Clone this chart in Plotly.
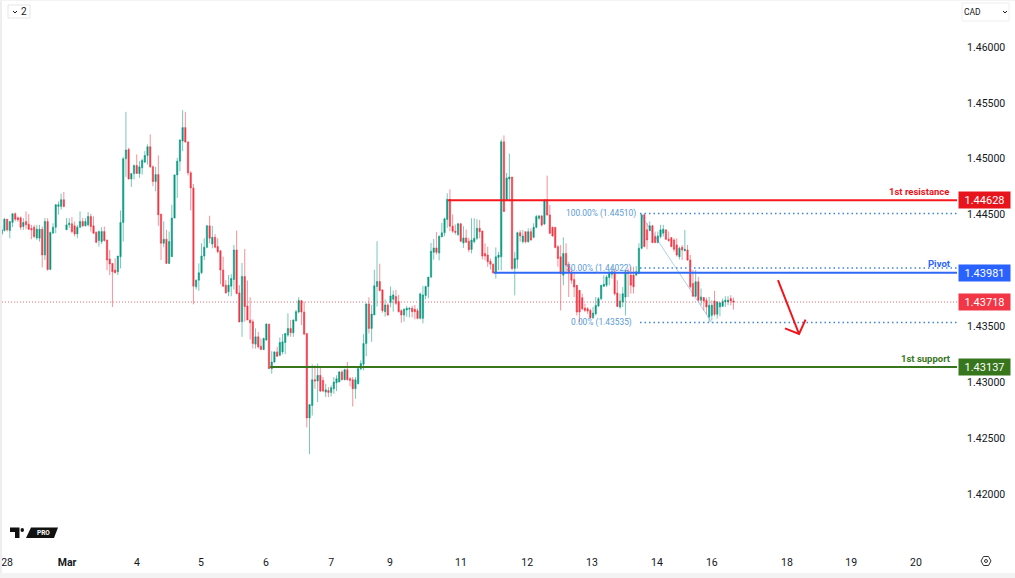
import plotly.graph_objects as go

W, H = 1015, 578

opens = [1.44328,1.44358,1.44460,1.44358,1.44430,1.44508,1.44472,1.44472,1.44394,1.44439,
1.44415,1.44376,1.44388,1.44292,1.44289,1.44370,1.44139,1.44439,1.44010,1.44334,
1.44388,1.44574,1.44574,1.44634,1.44364,1.44409,1.44418,1.44400,1.44328,1.44388,
1.44439,1.44400,1.44409,1.44484,1.44400,1.44343,1.44268,1.44259,1.44349,1.44274,
1.44103,1.44064,1.44004,1.43989,1.44124,1.44430,1.45000,1.45084,1.44820,1.44868,
1.44940,1.44868,1.44919,1.44970,1.45030,1.45108,1.44928,1.44796,1.44859,1.44505,
1.44244,1.44280,1.44064,1.44124,1.44469,1.44856,1.44979,1.45159,1.45279,1.45150,
1.44874,1.44739,1.43854,1.43914,1.43980,1.44130,1.44208,1.44400,1.44238,1.44298,
1.44214,1.44178,1.44004,1.43869,1.43809,1.43860,1.43920,1.44184,1.43800,1.43542,
1.43947,1.43683,1.43557,1.43542,1.43341,1.43407,1.43323,1.43293,1.43377,1.43521,
1.43122,1.43182,1.43272,1.43242,1.43272,1.43356,1.43422,1.43482,1.43443,1.43551,
1.43629,1.43731,1.43629,1.43437,1.42681,1.42792,1.43023,1.43011,1.43062,1.43017,
1.42912,1.42927,1.42909,1.42942,1.42996,1.43002,1.43092,1.43023,1.43113,1.43032,
1.43023,1.42942,1.42987,1.43122,1.43161,1.43347,1.43701,1.43482,1.43602,1.43857,
1.43902,1.43827,1.43632,1.43692,1.43713,1.43743,1.43767,1.43722,1.43641,1.43602,
1.43647,1.43653,1.43662,1.43653,1.43641,1.43572,1.43572,1.43776,1.43857,
1.43941,1.44163,1.44202,1.44157,1.44301,1.44337,1.44457,1.44637,1.44397,1.44352,
1.44322,1.44418,1.44247,1.44292,1.44262,1.44189,1.44258,1.44288,1.44378,1.44354,
1.44153,1.44138,1.44084,1.44057,1.43979,1.44117,1.44123,1.45152,1.44633,1.44819,
1.44837,1.44018,1.44099,1.44339,1.44258,1.44348,1.44258,1.44348,1.44297,1.44387,
1.44468,1.44489,1.44417,1.44633,1.44498,1.44387,1.44387,1.44213,1.44123,1.43958,
1.44153,1.44048,1.43988,1.43919,1.43868,1.43823,1.43757,1.43664,1.43658,1.43643,
1.43577,1.43613,1.43682,1.43748,1.43859,1.43868,1.43937,1.43967,1.43988,1.43799,
1.43673,1.43718,1.43763,1.43988,1.43959,1.43959,1.43959,1.43974,1.44199,1.44499,
1.44364,1.44358,1.44400,1.44304,1.44250,1.44304,1.44334,1.44364,1.44280,
1.44295,1.44274,1.44229,1.44124,1.44208,1.44178,1.44184,1.44094,1.43884,
1.43770,1.43899,1.43734,1.43758,1.43734,1.43584,1.43599,1.43728,1.43608,1.43674,
1.43680,1.43719,1.43719,1.43749,1.43728]

closes = [1.44364,1.44460,1.44364,1.44439,1.44508,1.44460,1.44454,1.44388,1.44430,1.44409,
1.44370,1.44364,1.44304,1.44370,1.44370,1.44139,1.44439,1.44010,1.44340,1.44388,
1.44589,1.44589,1.44634,1.44574,1.44409,1.44424,1.44349,1.44328,1.44388,1.44439,
1.44400,1.44439,1.44484,1.44394,1.44334,1.44253,1.44349,1.44349,1.44268,1.44094,
1.44058,1.43989,1.43980,1.44130,1.44430,1.45000,1.45078,1.44820,1.44868,1.44940,
1.44868,1.44928,1.44985,1.45030,1.45108,1.44928,1.44796,1.44859,1.44499,1.44244,
1.44280,1.44064,1.44259,1.44469,1.44856,1.44979,1.45168,1.45279,1.45150,1.44874,
1.44739,1.43860,1.43914,1.43980,1.44130,1.44208,1.44400,1.44289,1.44298,1.44208,
1.44169,1.44004,1.43860,1.43800,1.43869,1.43929,1.44184,1.43794,1.43539,1.43947,
1.43677,1.43557,1.43533,1.43347,1.43407,1.43317,1.43293,1.43392,1.43521,1.43122,
1.43182,1.43272,1.43233,1.43356,1.43362,1.43437,1.43482,1.43443,1.43557,1.43632,
1.43731,1.43629,1.43431,1.42681,1.42801,1.43023,1.43011,1.43062,1.42921,1.42921,
1.42933,1.42909,1.42951,1.43002,1.43032,1.43092,1.43023,1.43113,1.43023,1.43017,
1.42942,1.43023,1.43122,1.43167,1.43347,1.43701,1.43482,1.43611,1.43863,1.43902,
1.43821,1.43641,1.43692,1.43602,1.43773,1.43782,1.43707,1.43632,1.43602,1.43653,
1.43662,1.43662,1.43632,1.43632,1.43572,1.43791,1.43782,1.43857,1.43941,
1.44172,1.44202,1.44163,1.44307,1.44337,1.44463,1.44637,1.44397,1.44352,1.44343,
1.44418,1.44262,1.44292,1.44253,1.44187,1.44273,1.44288,1.44378,1.44348,1.44129,
1.44129,1.44078,1.44057,1.43979,1.44123,1.44138,1.45152,1.44528,1.44828,1.44837,
1.44018,1.44108,1.44339,1.44309,1.44309,1.44258,1.44348,1.44273,1.44387,1.44483,
1.44489,1.44408,1.44633,1.44498,1.44333,1.44309,1.44207,1.44108,1.43973,1.44153,
1.44048,1.43988,1.43913,1.43853,1.43628,1.43628,1.43658,1.43643,1.43637,1.43577,
1.43619,1.43688,1.43748,1.43868,1.43877,1.43943,1.43973,1.43988,1.43793,1.43679,
1.43727,1.43793,1.43988,1.43973,1.43869,1.43854,1.43989,1.44199,1.44499,1.44214,
1.44274,1.44400,1.44250,1.44250,1.44310,1.44364,1.44370,1.44280,1.44268,
1.44214,1.44190,1.44139,1.44199,1.44184,1.44190,1.44094,1.43854,1.43770,
1.43899,1.43734,1.43764,1.43728,1.43674,1.43689,1.43689,1.43608,1.43719,1.43710,
1.43725,1.43734,1.43734,1.43728,1.43718]

highs = [1.44400,1.44469,1.44460,1.44439,1.44514,1.44520,1.44484,1.44484,1.44469,1.44529,
1.44505,1.44409,1.44409,1.44409,1.44409,1.44394,1.44469,1.44469,1.44349,1.44424,
1.44595,1.44619,1.44688,1.44703,1.44469,1.44469,1.44478,1.44439,1.44409,1.44529,
1.44469,1.44469,1.44523,1.44508,1.44484,1.44349,1.44358,1.44388,1.44394,1.44274,
1.44184,1.44064,1.44109,1.44130,1.44538,1.45018,1.45420,1.45099,1.44868,1.44949,
1.45039,1.44979,1.45000,1.45069,1.45129,1.45219,1.44940,1.44928,1.45030,1.44505,
1.44439,1.44364,1.44349,1.44589,1.44859,1.45009,1.45174,1.45435,1.45420,1.45159,
1.44889,1.44775,1.43920,1.44064,1.44244,1.44289,1.44409,1.44490,1.44400,1.44328,
1.44289,1.44178,1.44124,1.43914,1.43959,1.43968,1.44229,1.44358,1.43869,1.44067,
1.44193,1.43911,1.43761,1.43563,1.43482,1.43452,1.43392,1.43401,1.43527,1.43521,
1.43278,1.43278,1.43317,1.43401,1.43431,1.43437,1.43617,1.43557,1.43563,1.43647,
1.43761,1.43731,1.43722,1.43437,1.42801,1.43161,1.43152,1.43167,1.43137,1.43047,
1.42987,1.42957,1.42972,1.43047,1.43062,1.43101,1.43107,1.43122,1.43182,1.43047,
1.43047,1.43047,1.43137,1.43197,1.43431,1.43707,1.43761,1.43692,1.44007,1.44262,
1.44061,1.43827,1.43743,1.43707,1.43857,1.43821,1.43827,1.43782,1.43653,1.43662,
1.43683,1.43671,1.43683,1.43692,1.43662,1.43803,1.43863,1.43863,1.43941,
1.44247,1.44283,1.44343,1.44313,1.44427,1.44472,1.44691,1.44727,1.44502,1.44412,
1.44427,1.44427,1.44397,1.44367,1.44292,1.44468,1.44468,1.44459,1.44453,1.44354,
1.44243,1.44213,1.44108,1.44063,1.44207,1.44168,1.45173,1.45209,1.44873,1.45047,
1.44837,1.44168,1.44348,1.44363,1.44363,1.44348,1.44378,1.44378,1.44423,1.44498,
1.44498,1.44498,1.44633,1.44849,1.44588,1.44393,1.44387,1.44228,1.44228,1.44297,
1.44243,1.44078,1.44018,1.43973,1.43868,1.43823,1.43793,1.43703,1.43673,1.43658,
1.43673,1.43763,1.43763,1.43868,1.43958,1.43958,1.44003,1.44033,1.44018,1.43913,
1.43793,1.43853,1.44003,1.44018,1.44034,1.44034,1.44040,1.44244,1.44499,1.44508,
1.44424,1.44439,1.44409,1.44349,1.44349,1.44409,1.44409,1.44364,1.44349,
1.44295,1.44289,1.44289,1.44214,1.44229,1.44364,1.44229,1.44139,1.44004,
1.44004,1.43944,1.43839,1.43764,1.43758,1.43764,1.43734,1.43818,1.43728,1.43719,
1.43749,1.43770,1.43770,1.43779,1.43758]

lows = [1.44310,1.44349,1.44349,1.44289,1.44388,1.44439,1.44436,1.44364,1.44364,1.44370,
1.44364,1.44280,1.44289,1.44274,1.44259,1.44028,1.44094,1.43998,1.44004,1.44334,
1.44334,1.44499,1.44544,1.44565,1.44364,1.44379,1.44334,1.44304,1.44289,1.44379,
1.44388,1.44394,1.44394,1.44349,1.44328,1.44244,1.44214,1.44238,1.44259,1.44004,
1.43959,1.43674,1.43974,1.43959,1.44019,1.44259,1.44838,1.44814,1.44748,1.44814,
1.44868,1.44829,1.44859,1.44964,1.44949,1.44919,1.44754,1.44709,1.44400,1.44094,
1.44208,1.44058,1.44058,1.44124,1.44469,1.44649,1.44889,1.45069,1.45144,1.44850,
1.44538,1.43698,1.43830,1.43818,1.43968,1.44094,1.44199,1.44244,1.44199,1.44199,
1.44154,1.43878,1.43854,1.43794,1.43770,1.43770,1.43830,1.43788,1.43539,1.43407,
1.43542,1.43557,1.43383,1.43302,1.43302,1.43302,1.43287,1.43287,1.43377,1.43122,
1.43077,1.43173,1.43227,1.43233,1.43251,1.43251,1.43407,1.43407,1.43407,1.43542,
1.43617,1.43512,1.43422,1.42597,1.42357,1.42702,1.42942,1.42822,1.42912,1.42912,
1.42867,1.42867,1.42873,1.42897,1.42921,1.43002,1.43017,1.43017,1.43017,1.42963,
1.42783,1.42852,1.42981,1.43107,1.43107,1.43233,1.43437,1.43362,1.43602,1.43677,
1.43812,1.43623,1.43587,1.43593,1.43671,1.43632,1.43692,1.43623,1.43533,1.43542,
1.43587,1.43581,1.43581,1.43563,1.43563,1.43563,1.43527,1.43743,1.43752,
1.43932,1.44097,1.44142,1.44091,1.44301,1.44307,1.44382,1.44352,1.44337,1.44322,
1.44307,1.44253,1.44202,1.44247,1.44163,1.44153,1.44243,1.44273,1.44288,1.44099,
1.44093,1.44033,1.44009,1.43973,1.43928,1.44003,1.44003,1.44528,1.44627,1.44618,
1.44003,1.43778,1.44018,1.44258,1.44243,1.44243,1.44249,1.44267,1.44288,1.44378,
1.44453,1.44393,1.44408,1.44489,1.44327,1.44303,1.44198,1.44033,1.43643,1.43868,
1.43973,1.43763,1.43883,1.43763,1.43598,1.43538,1.43643,1.43628,1.43613,1.43568,
1.43568,1.43598,1.43673,1.43733,1.43853,1.43853,1.43868,1.43928,1.43778,1.43673,
1.43658,1.43673,1.43598,1.43763,1.43794,1.43794,1.43950,1.43968,1.44190,1.44208,
1.44190,1.44349,1.44244,1.44244,1.44244,1.44289,1.44304,1.44274,1.44259,
1.44208,1.44169,1.44124,1.44100,1.44094,1.44169,1.44088,1.43839,1.43764,
1.43764,1.43728,1.43689,1.43644,1.43608,1.43539,1.43554,1.43590,1.43569,1.43590,
1.43674,1.43674,1.43689,1.43689,1.43650]

x_tick_labels = ["28", "<b>Mar</b>", "4", "5", "6", "7", "9", "11", "12", "13", "14", "16", "18", "19", "20"]
x_tick_bars = [2.0, 24.2, 50.1, 73.8, 97.9, 122.0, 143.8, 170.1, 194.6, 218.6, 242.7, 263.0, 290.8, 314.6, 338.6]
price_ticks = [1.42, 1.425, 1.43, 1.435, 1.445, 1.45, 1.455, 1.46]

resistance, pivot, support, last_price = 1.44628, 1.43981, 1.43137, 1.43718
fib_100, fib_50, fib_0 = 1.44510, 1.44022, 1.43535
arrow_bars = [287.5, 295.3]
arrow_prices = [1.43915, 1.43432]
arrow_head_bars = [290.1, 295.3, 297.7]
arrow_head_prices = [1.43482, 1.43432, 1.43560]

FONT = "Roboto"
INK = "#131722"
XMAX = 353.8
XMIN = 0.1
bars = list(range(len(opens)))


def X(px):
    return px / W


def Y(py):
    return 1 - py / H


def level(x0, price, color, width, dash="solid"):
    return go.Scatter(x=[x0, XMAX], y=[price, price], mode="lines",
                      line=dict(color=color, width=width, dash=dash),
                      hoverinfo="skip", showlegend=False)


fig = go.Figure()
fig.add_trace(level(XMIN, last_price, "rgba(242,54,69,0.75)", 1, "1px,2px"))
fig.add_trace(go.Candlestick(
    x=bars, open=opens, high=highs, low=lows, close=closes,
    increasing=dict(line=dict(color="rgba(8,153,129,0.55)", width=1), fillcolor="#089981"),
    decreasing=dict(line=dict(color="rgba(242,54,69,0.55)", width=1), fillcolor="#F23645"),
    whiskerwidth=0, showlegend=False, hoverinfo="skip"))
fig.add_trace(level(165.3, resistance, "#F7171F", 2))
fig.add_trace(level(182.3, pivot, "#2F6AF5", 2))
fig.add_trace(level(99.4, support, "#38761D", 2))
for f in (fib_100, fib_50, fib_0):
    fig.add_trace(level(236.4, f, "#3D85D8", 1.4, "1.5px,3px"))
fig.add_trace(go.Scatter(x=[236.4, 263.0], y=[fib_100, fib_0], mode="lines",
                         line=dict(color="rgba(61,133,216,0.4)", width=1),
                         hoverinfo="skip", showlegend=False))
fig.add_trace(go.Scatter(x=arrow_bars, y=arrow_prices, mode="lines",
                         line=dict(color="#F0141C", width=2), hoverinfo="skip", showlegend=False))
fig.add_trace(go.Scatter(x=arrow_head_bars, y=arrow_head_prices, mode="lines",
                         line=dict(color="#F0141C", width=2), hoverinfo="skip", showlegend=False))

annotations = []


def price_tag(price, text, color):
    annotations.append(dict(xref="paper", yref="y", x=X(984.5), y=price, text=text, showarrow=False,
                            xanchor="center", yanchor="middle",
                            font=dict(family=FONT, size=11, color="white"), bgcolor=color,
                            width=51, height=16, borderpad=0, align="center"))


def label(x_px, price, text, color, size, yshift=0, bold=False):
    annotations.append(dict(xref="paper", yref="y", x=X(x_px), y=price,
                            text=f"<b>{text}</b>" if bold else text, showarrow=False,
                            xanchor="right", yanchor="middle",
                            yshift=yshift, font=dict(family=FONT, size=size, color=color)))


def chrome(x_px, y_px, text, color, size, bold=False):
    annotations.append(dict(xref="paper", yref="paper", x=X(x_px), y=Y(y_px),
                            text=f"<b>{text}</b>" if bold else text, showarrow=False,
                            xanchor="center", yanchor="middle",
                            font=dict(family=FONT, size=size, color=color)))


price_tag(resistance, "1.44628", "#E8141C")
price_tag(pivot, "1.43981", "#2962FF")
price_tag(last_price, "1.43718", "#F23645")
price_tag(support, "1.43137", "#38761D")
label(951, resistance, "1st resistance", "#E8141C", 9.5, yshift=9, bold=True)
label(953, pivot, "Pivot", "#2962FF", 9.5, yshift=9, bold=True)
label(953, support, "1st support", "#38761D", 9.5, yshift=8, bold=True)
label(638, fib_100, "100.00% (1.44510)", "#5B9BD5", 8.4)
label(634, fib_50, "50.00% (1.44022)", "#5B9BD5", 8.4)
label(634, fib_0, "0.00% (1.43535)", "#5B9BD5", 8.4)
chrome(24, 12, "2", INK, 10)
chrome(972, 12, "CAD", INK, 8.5)
chrome(43.5, 533, "PRO", "white", 6.5, bold=True)


def poly(points):
    return "M" + " L".join(f"{X(a):.5f},{Y(b):.5f}" for a, b in points)


shapes = [
    dict(type="rect", xref="paper", yref="paper", x0=0, x1=X(2), y0=0, y1=1, fillcolor="#EEEEEE", line_width=0),
    dict(type="rect", xref="paper", yref="paper", x0=0, x1=1, y0=0, y1=Y(573), fillcolor="#F3F3F3", line_width=0),
    dict(type="rect", xref="paper", yref="paper", x0=0, x1=1, y0=Y(1), y1=1, fillcolor="#F3F3F3", line_width=0),
    dict(type="rect", xref="paper", yref="paper", x0=X(8), x1=X(30), y0=Y(18), y1=Y(5),
         line=dict(color="#E6E6E6", width=1), fillcolor="white"),
    dict(type="rect", xref="paper", yref="paper", x0=X(962), x1=X(1009), y0=Y(21), y1=Y(3),
         line=dict(color="#EEEEEE", width=1), fillcolor="white"),
    dict(type="path", xref="paper", yref="paper", path=poly([(13, 11), (15, 13), (17, 11)]),
         line=dict(color=INK, width=1)),
    dict(type="path", xref="paper", yref="paper", path=poly([(1003, 11), (1005, 13), (1007, 11)]),
         line=dict(color=INK, width=1)),
    dict(type="path", xref="paper", yref="paper",
         path=poly([(10, 527.5), (19.5, 527.5), (19.5, 538), (15, 538), (15, 532), (10, 532)]) + " Z",
         fillcolor="#111", line_width=0),
    dict(type="circle", xref="paper", yref="paper", x0=X(20.5), x1=X(24), y0=Y(532), y1=Y(528),
         fillcolor="#111", line_width=0),
    dict(type="path", xref="paper", yref="paper",
         path=poly([(26, 538), (31, 527.5), (58, 527.5), (54, 538)]) + " Z",
         fillcolor="#111", line_width=0),
    dict(type="path", xref="paper", yref="paper",
         path=poly([(981, 561), (983.5, 556.5), (988.5, 556.5), (991, 561), (988.5, 565.5), (983.5, 565.5)]) + " Z",
         line=dict(color="#333", width=1)),
    dict(type="circle", xref="paper", yref="paper", x0=X(984.5), x1=X(987.5), y0=Y(562.5), y1=Y(559.5),
         line=dict(color="#333", width=1)),
]

fig.update_layout(
    width=W, height=H, autosize=False,
    margin=dict(l=0, r=0, t=0, b=0),
    paper_bgcolor="white", plot_bgcolor="white",
    showlegend=False, annotations=annotations, shapes=shapes,
    font=dict(family=FONT, size=10.5, color=INK),
    xaxis=dict(domain=[X(2), X(957)], range=[XMIN, XMAX], rangeslider=dict(visible=False),
               tickmode="array", tickvals=x_tick_bars, ticktext=x_tick_labels, showgrid=False,
               zeroline=False, showline=False, ticks="outside", ticklen=2,
               tickcolor="rgba(0,0,0,0)", tickangle=0, tickfont=dict(family=FONT, size=10.5, color=INK)),
    yaxis=dict(domain=[Y(550), Y(0)], range=[1.41499, 1.46421], side="right", anchor="x",
               tickmode="array", tickvals=price_ticks, tickformat=".5f", showgrid=False,
               zeroline=False, showline=False, ticks="outside", ticklen=7,
               tickcolor="rgba(0,0,0,0)", tickfont=dict(family=FONT, size=10.5, color=INK)),
)

fig.write_html("out.html", config=dict(displayModeBar=False),
               post_script="document.body.style.margin='0';document.body.style.overflow='hidden';")
